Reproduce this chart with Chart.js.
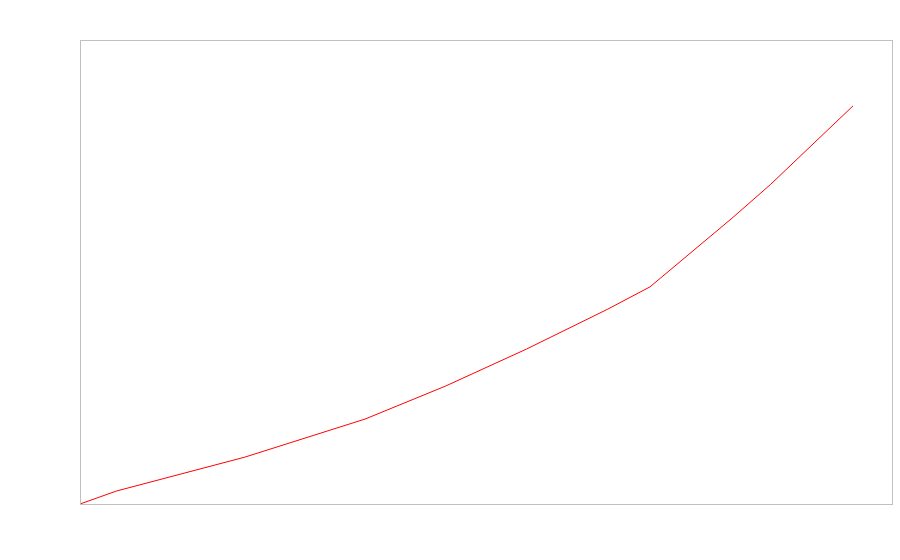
<!DOCTYPE html>
<html>
<head>
<meta charset="utf-8">
<script src="https://cdn.jsdelivr.net/npm/chart.js@4/dist/chart.umd.min.js"></script>
<style>
html,body{margin:0;padding:0;background:#fff;}
canvas{display:block;}
</style>
</head>
<body>
<canvas id="c" width="900" height="560"></canvas>
<script>
// data (arbitrary units, no labels shown in reference)
const xValues = [0, 4.5, 20.3, 35.1, 45.0, 55.0, 65.0, 70.2, 80.3, 85.0, 95.2];
const yValues = [0, 2.8, 10.1, 18.3, 25.4, 33.4, 42.0, 46.8, 61.6, 68.8, 85.8];
const xRange = [0, 100];
const yRange = [0, 100];

const points = xValues.map((x, i) => ({x: x, y: yValues[i]}));

const frame = {
  id: 'frame',
  afterDraw(chart) {
    const a = chart.chartArea, ctx = chart.ctx;
    ctx.save();
    ctx.strokeStyle = '#c0c0c0';
    ctx.lineWidth = 1;
    ctx.strokeRect(Math.round(a.left) + 0.5, Math.round(a.top) + 0.5,
                   Math.round(a.right - a.left), Math.round(a.bottom - a.top));
    ctx.restore();
  }
};

new Chart(document.getElementById('c'), {
  type: 'scatter',
  data: {
    datasets: [{
      data: points,
      showLine: true,
      borderColor: '#ff0000',
      backgroundColor: '#ff0000',
      borderWidth: 1,
      pointRadius: 0,
      tension: 0
    }]
  },
  options: {
    responsive: false,
    animation: false,
    layout: {padding: {left: 80, top: 40, right: 8, bottom: 56}},
    plugins: {legend: {display: false}, tooltip: {enabled: false}},
    scales: {
      x: {type: 'linear', min: xRange[0], max: xRange[1], display: false},
      y: {type: 'linear', min: yRange[0], max: yRange[1], display: false}
    }
  },
  plugins: [frame]
});
</script>
</body>
</html>
